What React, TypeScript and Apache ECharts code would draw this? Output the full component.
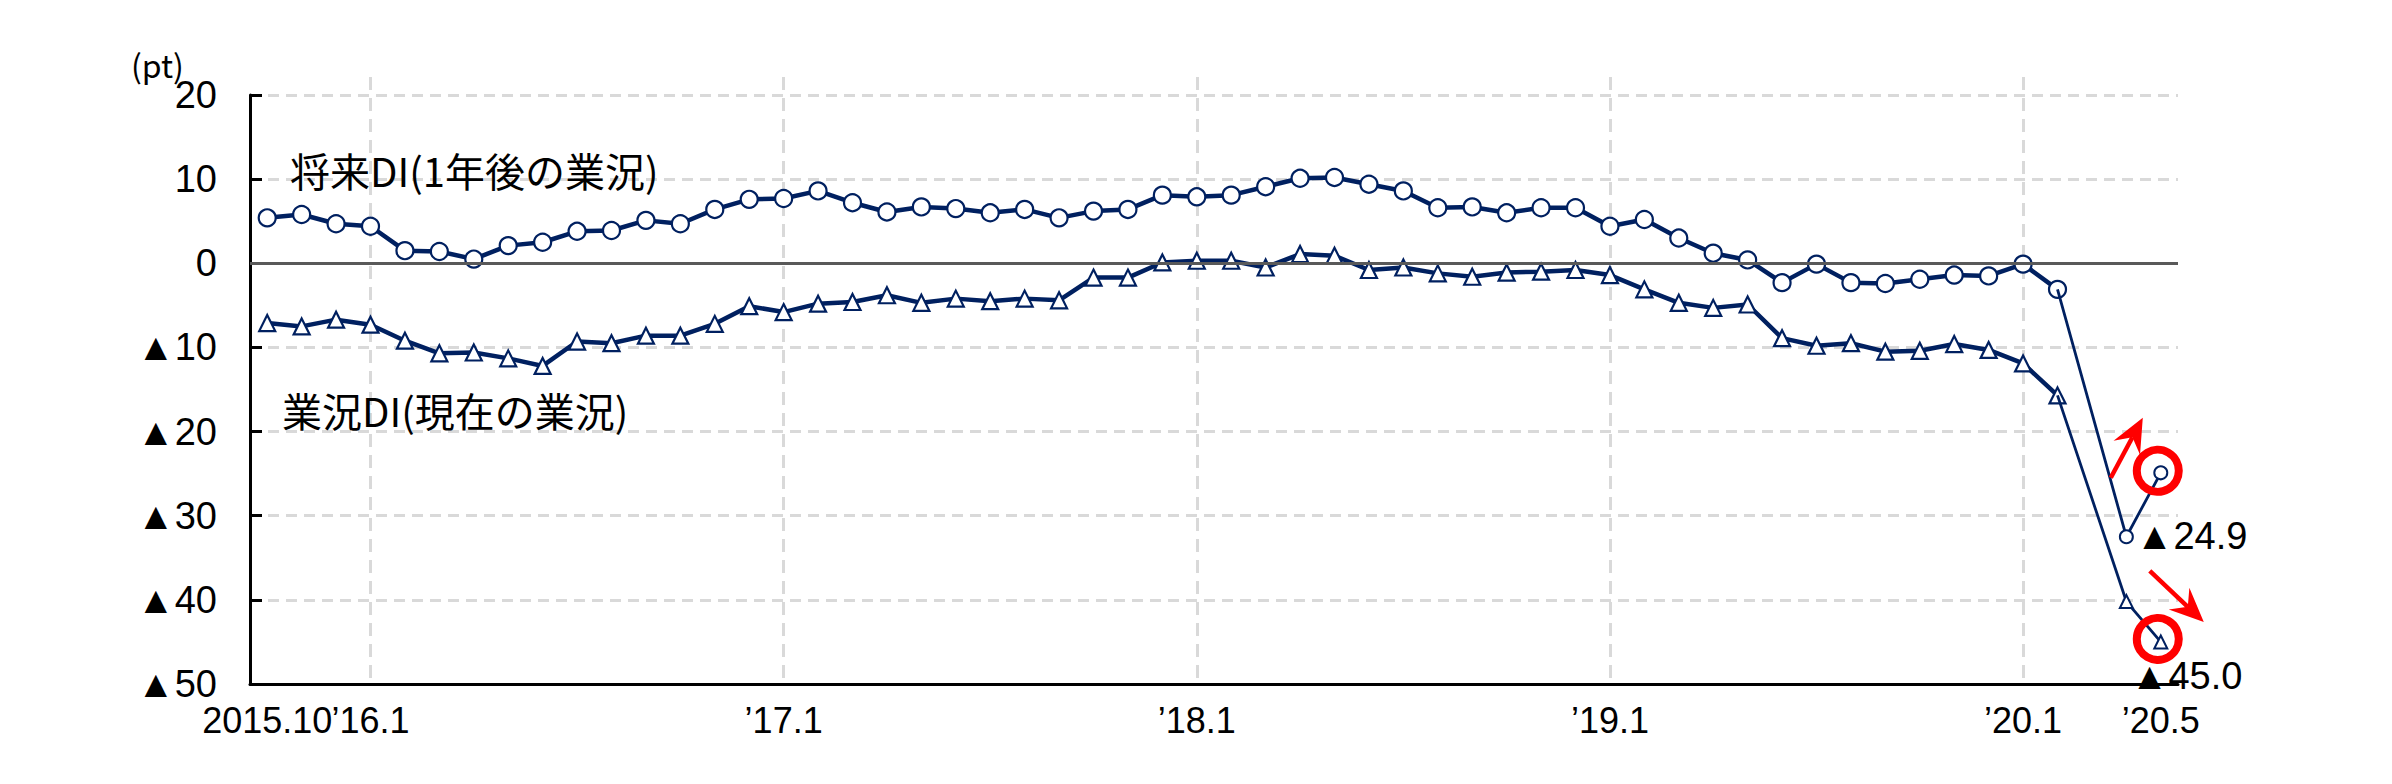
import React, { useEffect, useRef } from "react";
import * as echarts from "echarts";

// ---- data -------------------------------------------------------------
const categories: string[] = [
  "2015.10", "2015.11", "2015.12",
  "2016.1", "2016.2", "2016.3", "2016.4", "2016.5", "2016.6", "2016.7", "2016.8", "2016.9", "2016.10", "2016.11", "2016.12",
  "2017.1", "2017.2", "2017.3", "2017.4", "2017.5", "2017.6", "2017.7", "2017.8", "2017.9", "2017.10", "2017.11", "2017.12",
  "2018.1", "2018.2", "2018.3", "2018.4", "2018.5", "2018.6", "2018.7", "2018.8", "2018.9", "2018.10", "2018.11", "2018.12",
  "2019.1", "2019.2", "2019.3", "2019.4", "2019.5", "2019.6", "2019.7", "2019.8", "2019.9", "2019.10", "2019.11", "2019.12",
  "2020.1", "2020.2", "2020.3", "2020.4", "2020.5",
];

// 将来DI(1年後の業況)
const futureDI: (number | null)[] = [
  5.4, 5.8, 4.7,
  4.4, 1.5, 1.4, 0.5, 2.1, 2.5, 3.8, 3.9, 5.1, 4.7, 6.4, 7.6,
  7.7, 8.6, 7.2, 6.1, 6.7, 6.5, 6.0, 6.4, 5.4, 6.2, 6.4, 8.1,
  7.9, 8.1, 9.1, 10.1, 10.2, 9.4, 8.6, 6.6, 6.7, 6.0, 6.6, 6.6,
  4.4, 5.2, 3.0, 1.2, 0.4, -2.3, -0.1, -2.3, -2.4, -1.9, -1.4, -1.5,
  -0.1, -3.1, null, -32.5, -24.9,
];

// 業況DI(現在の業況)
const currentDI: (number | null)[] = [
  -7.1, -7.5, -6.7,
  -7.3, -9.2, -10.7, -10.6, -11.3, -12.2, -9.3, -9.5, -8.6, -8.6, -7.2, -5.1,
  -5.8, -4.8, -4.6, -3.8, -4.7, -4.2, -4.5, -4.2, -4.4, -1.7, -1.7, 0.1,
  0.3, 0.3, -0.5, 1.1, 0.9, -0.8, -0.5, -1.2, -1.6, -1.1, -1.0, -0.8,
  -1.4, -3.1, -4.7, -5.3, -4.9, -8.9, -9.8, -9.5, -10.5, -10.4, -9.6, -10.3,
  -11.9, -15.7, null, -40.2, -45.0,
];

const seriesNames = ["将来DI(1年後の業況)", "業況DI(現在の業況)"];
const tickMonths = ["2015.10", "2016.1", "2017.1", "2018.1", "2019.1", "2020.1", "2020.5"];
const tickLabels = ["2015.10", "’16.1", "’17.1", "’18.1", "’19.1", "’20.1", "’20.5"];
const gridMonths = ["2016.1", "2017.1", "2018.1", "2019.1", "2020.1"];
const tailStartMonth = "2020.2";
const yMin = -50;
const yMax = 20;
const yStep = 10;
const unitLabel = "(pt)";

// ---- styles -----------------------------------------------------------
const NAVY = "#002060";
const GRID = "#d9d9d9";
const RED = "#ff0000";
const NUM_FONT = '"Liberation Sans Narrow", "Arial Narrow", "Liberation Sans", Arial, sans-serif';
const JP_FONT = '"Noto Sans CJK JP", "Noto Sans", sans-serif';

const fmtNeg = (v: number) => (v < 0 ? "▲" + Math.abs(v) : String(v));
const fmtNeg1 = (v: number) => (v < 0 ? "▲" + Math.abs(v).toFixed(1) : v.toFixed(1));

function splitSeries(values: (number | null)[]) {
  const t = categories.indexOf(tailStartMonth);
  const main = values.map((v, i) => (i <= t ? v : null));
  const tail = values.map((v, i) => {
    if (i < t) return null;
    if (i === t) return { value: v, symbol: "none" };
    return v;
  });
  return { main, tail };
}

function arrow(sx: number, sy: number, ex: number, ey: number) {
  const dx = ex - sx;
  const dy = ey - sy;
  const len = Math.hypot(dx, dy);
  const ux = dx / len;
  const uy = dy / len;
  const px = -uy;
  const py = ux;
  const HL = 34;
  const HW = 15;
  const NOTCH = 22;
  const nx = ex - ux * NOTCH;
  const ny = ey - uy * NOTCH;
  return [
    {
      type: "line",
      z: 100,
      shape: { x1: sx, y1: sy, x2: nx, y2: ny },
      style: { stroke: RED, lineWidth: 4.5 },
    },
    {
      type: "polygon",
      z: 100,
      shape: {
        points: [
          [ex, ey],
          [ex - ux * HL + px * HW, ey - uy * HL + py * HW],
          [nx, ny],
          [ex - ux * HL - px * HW, ey - uy * HL - py * HW],
        ],
      },
      style: { fill: RED },
    },
  ];
}

export default function App() {
  const ref = useRef<HTMLDivElement>(null);

  useEffect(() => {
    if (!ref.current) return;
    const chart = echarts.init(ref.current, null, { renderer: "svg" });

    const f = splitSeries(futureDI);
    const c = splitSeries(currentDI);

    const mainLine = (name: string, data: any[], symbol: string, size: number) => ({
      type: "line",
      name,
      xAxisIndex: 0,
      yAxisIndex: 0,
      data,
      symbol,
      symbolSize: size,
      showAllSymbol: true,
      z: 3,
      lineStyle: { color: NAVY, width: 4.5 },
      itemStyle: { color: "#ffffff", borderColor: NAVY, borderWidth: 2.2 },
    });
    const tailLine = (name: string, data: any[], symbol: string) => ({
      type: "line",
      name: name + "_tail",
      xAxisIndex: 0,
      yAxisIndex: 0,
      data,
      symbol,
      symbolSize: 13,
      showAllSymbol: true,
      connectNulls: true,
      z: 4,
      lineStyle: { color: NAVY, width: 2.8 },
      itemStyle: { color: "#ffffff", borderColor: NAVY, borderWidth: 2 },
    });

    const xLabelStyle = {
      show: true,
      formatter: (v: string) => tickLabels[tickMonths.indexOf(v)] ?? "",
      showMinLabel: true,
      showMaxLabel: true,
      hideOverlap: false,
      fontSize: 36,
      fontFamily: NUM_FONT,
      color: "#000",
      margin: 18,
    };
    const firstMonth = tickMonths[0];

    const option: any = {
      animation: false,
      backgroundColor: "#ffffff",
      grid: [
        { left: 250, right: 214, top: 95, bottom: 100, containLabel: false, outerBoundsMode: "none" },
        { left: 250, right: 214, top: 77, bottom: 100, containLabel: false, outerBoundsMode: "none" },
      ],
      xAxis: [
        {
          type: "category",
          gridIndex: 0,
          data: categories,
          boundaryGap: true,
          axisLine: { show: true, onZero: false, lineStyle: { color: "#000", width: 3 } },
          axisTick: { show: false },
          axisLabel: {
            ...xLabelStyle,
            interval: (_i: number, v: string) => v !== firstMonth && tickMonths.includes(v),
          },
          splitLine: { show: false },
        },
        {
          type: "category",
          gridIndex: 1,
          data: categories,
          boundaryGap: true,
          axisLine: { show: false },
          axisTick: { show: false },
          axisLabel: {
            ...xLabelStyle,
            interval: (_i: number, v: string) => v === firstMonth,
          },
          splitLine: {
            show: true,
            alignWithLabel: true,
            interval: (_i: number, v: string) => gridMonths.includes(v),
            lineStyle: { color: GRID, width: 3, type: [13, 8] },
          },
        },
      ],
      yAxis: [
        {
          type: "value",
          gridIndex: 0,
          min: yMin,
          max: yMax,
          interval: yStep,
          axisLine: { show: true, onZero: false, lineStyle: { color: "#000", width: 3 } },
          axisTick: { show: true, inside: true, length: 12, lineStyle: { color: "#000", width: 3 } },
          axisLabel: { formatter: fmtNeg, fontSize: 38, fontFamily: NUM_FONT, color: "#000", margin: 33 },
          splitLine: { show: true, lineStyle: { color: GRID, width: 3, type: [11, 7] } },
        },
        { type: "value", gridIndex: 1, min: 0, max: 1, show: false },
      ],
      series: [
        {
          type: "line",
          name: "zero",
          xAxisIndex: 0,
          yAxisIndex: 0,
          data: [],
          z: 2,
          markLine: {
            silent: true,
            symbol: ["none", "none"],
            label: { show: false },
            lineStyle: { color: "#595959", type: "solid", width: 3 },
            data: [{ yAxis: 0 }],
          },
        },
        mainLine(seriesNames[0], f.main, "circle", 17),
        mainLine(seriesNames[1], c.main, "triangle", 16),
        tailLine(seriesNames[0], f.tail, "circle"),
        tailLine(seriesNames[1], c.tail, "triangle"),
      ],
    };

    chart.setOption(option);

    const last = categories.length - 1;
    const fLast = futureDI[last] as number;
    const cLast = currentDI[last] as number;
    const pF = chart.convertToPixel({ gridIndex: 0 }, [categories[last], fLast]) as number[];
    const pC = chart.convertToPixel({ gridIndex: 0 }, [categories[last], cLast]) as number[];

    const graphic: any[] = [
      {
        type: "text",
        left: 131,
        top: 48,
        style: { text: unitLabel, fontSize: 32, fontFamily: JP_FONT, fill: "#000" },
      },
      {
        type: "text",
        left: 290,
        top: 150,
        style: { text: seriesNames[0], fontSize: 40, fontFamily: JP_FONT, fill: "#000" },
      },
      {
        type: "text",
        left: 282,
        top: 390,
        style: { text: seriesNames[1], fontSize: 40, fontFamily: JP_FONT, fill: "#000" },
      },
      {
        type: "text",
        z: 100,
        x: pF[0] - 25,
        y: pF[1] + 63,
        style: {
          text: fmtNeg1(fLast),
          fontSize: 38,
          fontFamily: NUM_FONT,
          fill: "#000",
          align: "left",
          verticalAlign: "middle",
        },
      },
      {
        type: "text",
        z: 100,
        x: pC[0] - 30,
        y: pC[1] + 34,
        style: {
          text: fmtNeg1(cLast),
          fontSize: 38,
          fontFamily: NUM_FONT,
          fill: "#000",
          align: "left",
          verticalAlign: "middle",
        },
      },
      {
        type: "circle",
        z: 100,
        shape: { cx: pF[0] - 3, cy: pF[1] - 2, r: 21 },
        style: { fill: "none", stroke: RED, lineWidth: 8 },
      },
      {
        type: "circle",
        z: 100,
        shape: { cx: pC[0] - 3, cy: pC[1] - 3, r: 21 },
        style: { fill: "none", stroke: RED, lineWidth: 8 },
      },
      ...arrow(pF[0] - 50, pF[1] + 5, pF[0] - 18, pF[1] - 55),
      ...arrow(pC[0] - 11, pC[1] - 71, pC[0] + 43, pC[1] - 20),
    ];

    chart.setOption({ graphic });

    return () => chart.dispose();
  }, []);

  return (
    <div
      ref={ref}
      style={{ position: "absolute", left: 0, top: 0, width: 2392, height: 784, background: "#ffffff" }}
    />
  );
}
